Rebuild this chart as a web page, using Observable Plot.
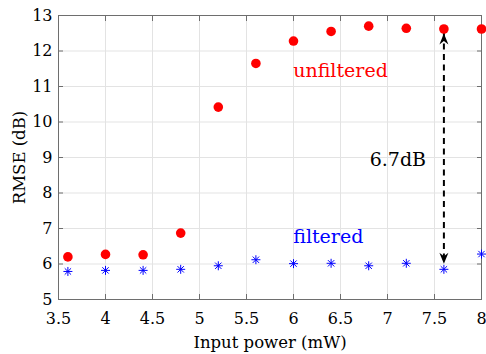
<!DOCTYPE html>
<html>
<head>
<meta charset="utf-8">
<script src="https://cdn.jsdelivr.net/npm/d3@7"></script>
<script src="https://cdn.jsdelivr.net/npm/@observablehq/plot@0.6"></script>
<style>
  html, body { margin: 0; padding: 0; background: #fff; }
  #chart svg { display: block; font-family: "DejaVu Serif" !important; }
  #chart svg text { font-family: "DejaVu Serif" !important; }
</style>
</head>
<body>
<div id="chart"></div>
<script>
const inputPower = [3.6, 4.0, 4.4, 4.8, 5.2, 5.6, 6.0, 6.4, 6.8, 7.2, 7.6, 8.0];
const unfiltered = [6.20, 6.27, 6.26, 6.87, 10.42, 11.65, 12.28, 12.55, 12.70, 12.64, 12.62, 12.62];
const filtered   = [5.79, 5.82, 5.82, 5.85, 5.95, 6.12, 6.01, 6.02, 5.95, 6.02, 5.85, 6.28];
const xTicks = [3.5, 4, 4.5, 5, 5.5, 6, 6.5, 7, 7.5, 8];
const yTicks = [5, 6, 7, 8, 9, 10, 11, 12, 13];
const labels = [
  {x: 6.50, y: 11.44, text: "unfiltered", color: "#ff0000"},
  {x: 6.37, y: 6.77, text: "filtered", color: "#0000ff"},
  {x: 7.11, y: 8.94, text: "6.7dB", color: "#000000"}
];
const gap = {x: 7.6, yTop: 12.49, yBottom: 6.01};

const font = "DejaVu Serif";

const unf = inputPower.map((x, i) => ({x, y: unfiltered[i]}));
const fil = inputPower.map((x, i) => ({x, y: filtered[i]}));

const asterisk = {
  draw(ctx, size) {
    const r = Math.sqrt(size / Math.PI);
    const d = r * Math.SQRT1_2;
    ctx.moveTo(-r, 0); ctx.lineTo(r, 0);
    ctx.moveTo(0, -r); ctx.lineTo(0, r);
    ctx.moveTo(-d, -d); ctx.lineTo(d, d);
    ctx.moveTo(-d, d); ctx.lineTo(d, -d);
  }
};
const arrowHead = {
  draw(ctx) {
    ctx.moveTo(0, 0);
    ctx.lineTo(4.5, 11);
    ctx.lineTo(0, 7.5);
    ctx.lineTo(-4.5, 11);
    ctx.closePath();
  }
};
const fmt = d => String(d);

const chart = Plot.plot({
  width: 486,
  height: 354,
  marginLeft: 58,
  marginRight: 5,
  marginTop: 15,
  marginBottom: 55,
  style: {fontFamily: font, background: "#fff"},
  x: {domain: [3.5, 8], ticks: xTicks},
  y: {domain: [5, 13], ticks: yTicks},
  marks: [
    Plot.gridX(xTicks, {stroke: "#e3e3e3", strokeOpacity: 1}),
    Plot.gridY(yTicks, {stroke: "#e3e3e3", strokeOpacity: 1}),
    Plot.axisX(xTicks, {anchor: "bottom", tickSize: -5, tickPadding: 18, tickFormat: fmt, fontSize: 16, stroke: "#6e6e6e", fill: "#000", label: null}),
    Plot.axisX(xTicks, {anchor: "top", tickSize: -5, tickFormat: () => "", stroke: "#6e6e6e", label: null}),
    Plot.axisY(yTicks, {anchor: "left", tickSize: -5, tickPadding: 11, tickFormat: fmt, fontSize: 16, stroke: "#6e6e6e", fill: "#000", label: null}),
    Plot.axisY(yTicks, {anchor: "right", tickSize: -5, tickFormat: () => "", stroke: "#6e6e6e", label: null}),
    Plot.frame({stroke: "#6e6e6e"}),
    Plot.ruleX([gap], {x: "x", y1: "yTop", y2: "yBottom", stroke: "#000", strokeWidth: 2, strokeDasharray: "6,4.5"}),
    Plot.dot([gap], {x: "x", y: "yTop", symbol: arrowHead, fill: "#000", stroke: "none", r: 5}),
    Plot.dot([gap], {x: "x", y: "yBottom", symbol: arrowHead, fill: "#000", stroke: "none", r: 5, rotate: 180}),
    Plot.dot(unf, {x: "x", y: "y", r: 4.8, fill: "#ff0000", stroke: "none"}),
    Plot.dot(fil, {x: "x", y: "y", r: 4.5, symbol: asterisk, fill: "none", stroke: "#0000ff", strokeWidth: 1}),
    Plot.text(labels, {x: "x", y: "y", text: "text", fill: "color", fontSize: 19, fontFamily: font, textAnchor: "middle", lineAnchor: "middle"}),
    Plot.text(["RMSE (dB)"], {frameAnchor: "left", text: d => d, dx: -39, rotate: -90, fontSize: 16.5, fontFamily: font, fill: "#000", textAnchor: "middle", lineAnchor: "middle"}),
    Plot.text(["Input power (mW)"], {frameAnchor: "bottom", text: d => d, dy: 43, fontSize: 16.5, fontFamily: font, fill: "#000", textAnchor: "middle", lineAnchor: "middle"})
  ]
});
document.getElementById("chart").appendChild(chart);
</script>
</body>
</html>
